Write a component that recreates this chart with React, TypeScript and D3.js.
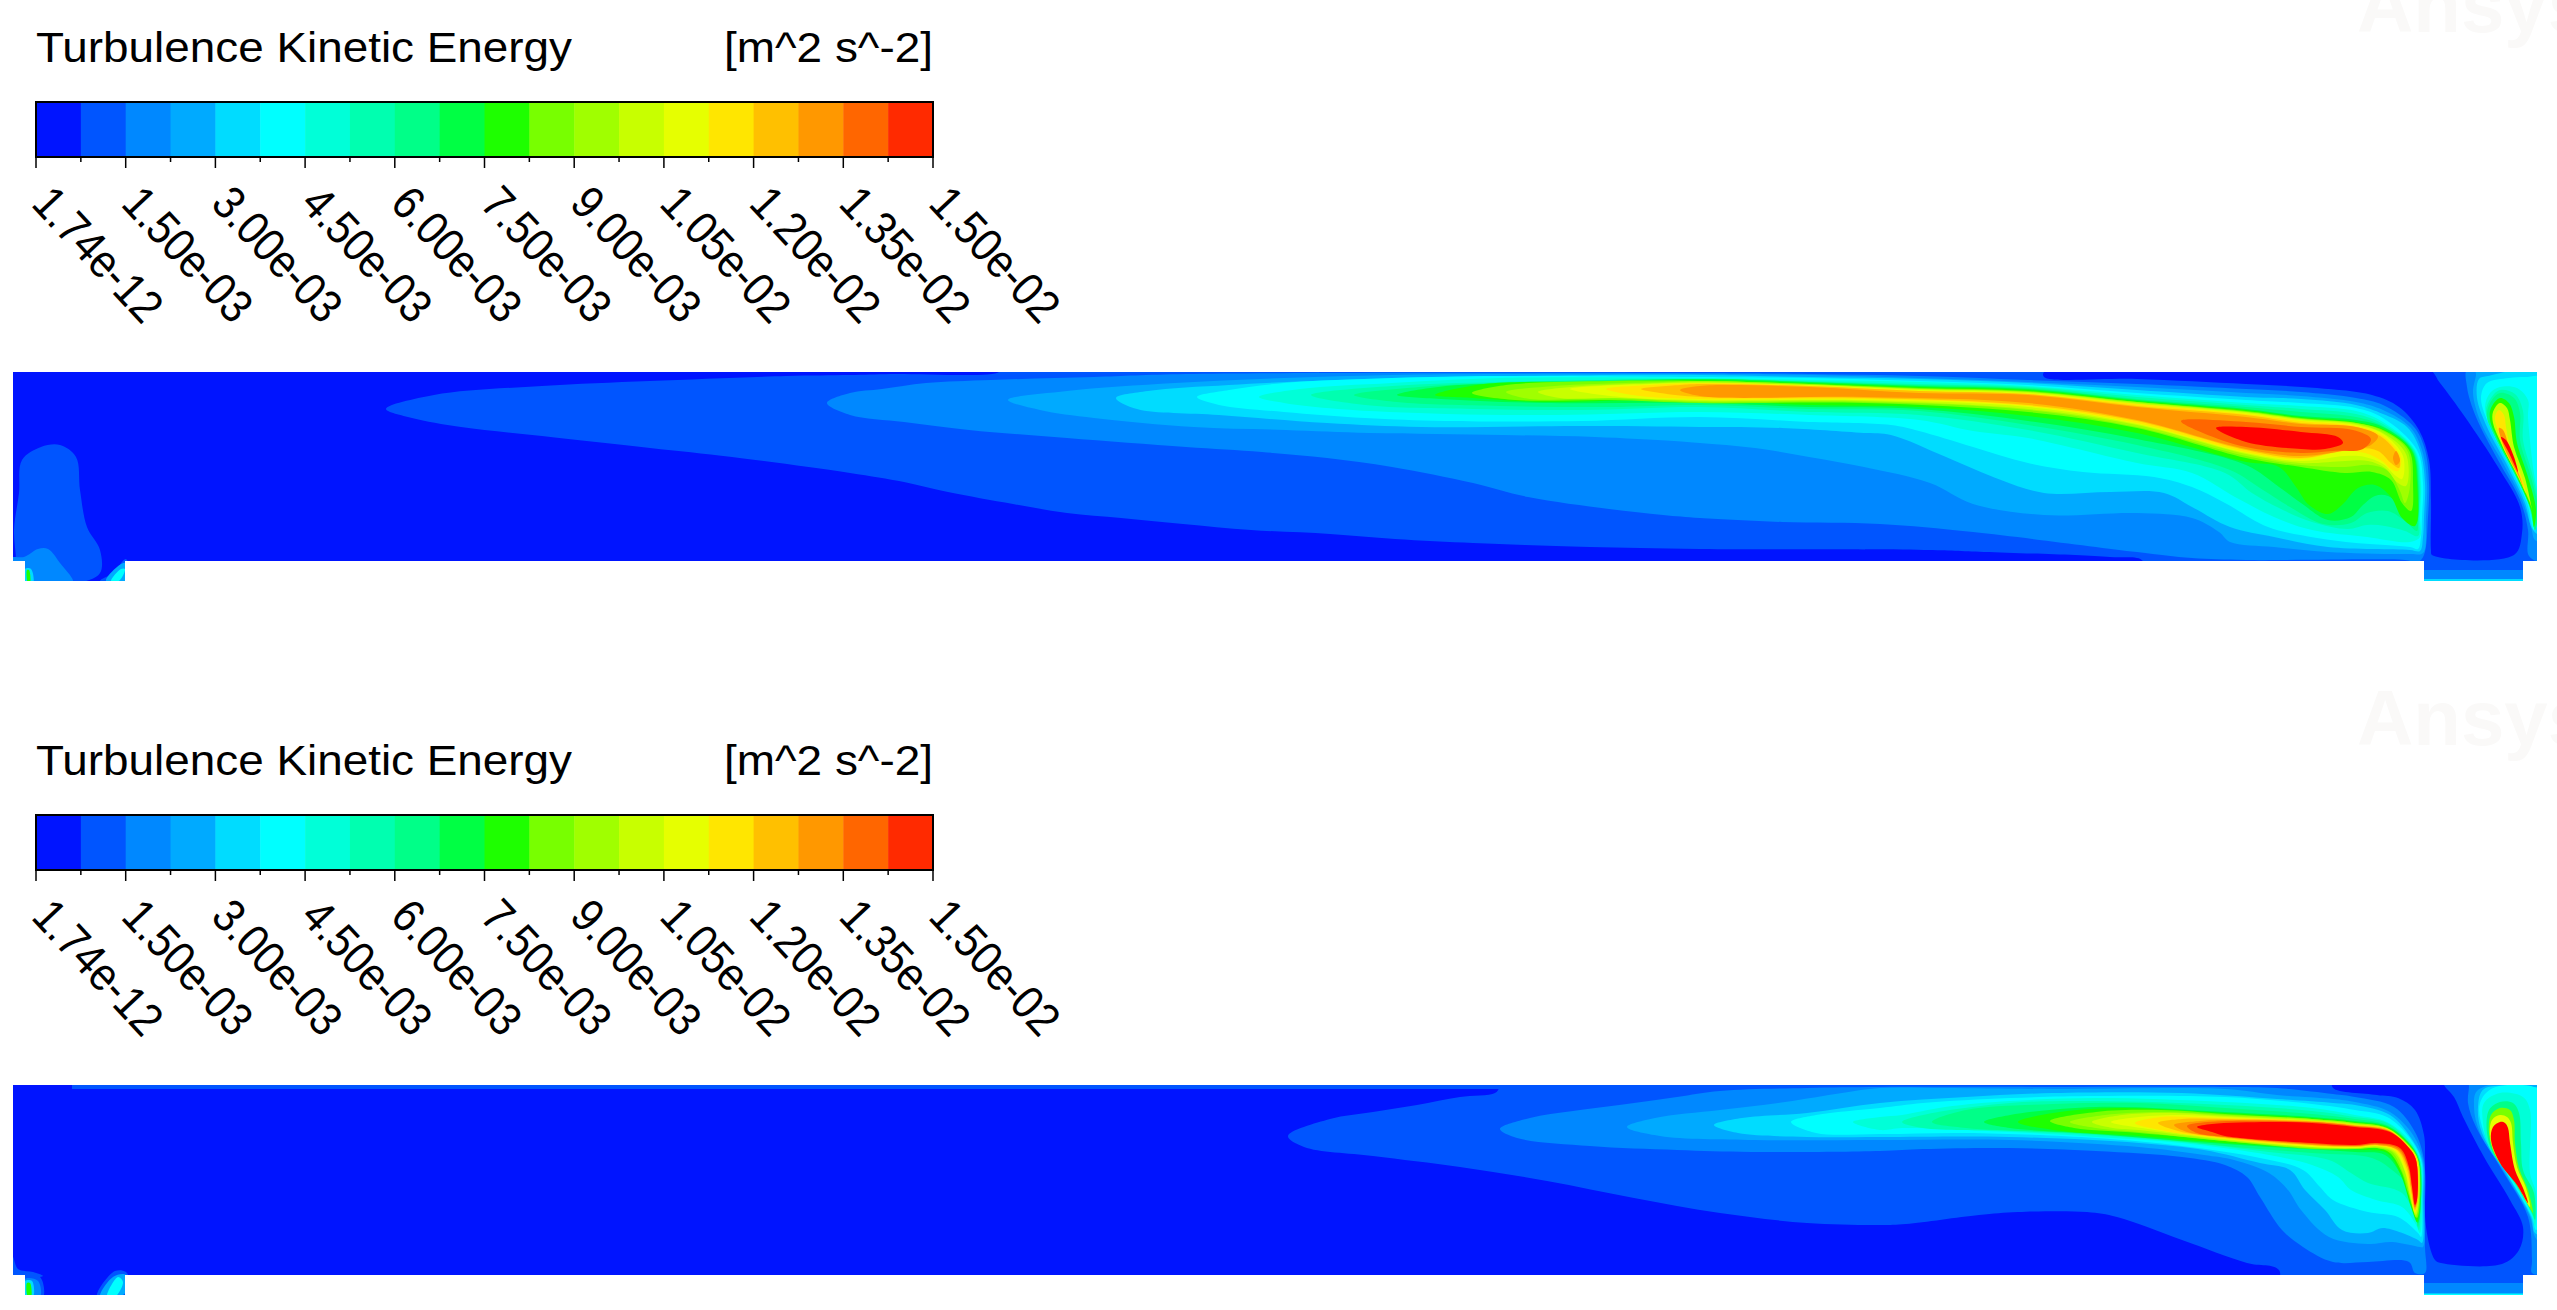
import * as d3 from 'd3';

type Pt = [number, number];
type Layer = [number, Pt[], boolean?];

// legend
const fieldTitle = 'Turbulence Kinetic Energy';
const fieldUnit = '[m^2 s^-2]';
const tickLabels = ['1.74e-12', '1.50e-03', '3.00e-03', '4.50e-03', '6.00e-03', '7.50e-03', '9.00e-03', '1.05e-02', '1.20e-02', '1.35e-02', '1.50e-02'];
const bandColors = ['#0014ff', '#0055ff', '#0088ff', '#00aaff', '#00dcff', '#00ffff', '#00ffd8', '#00ffb0', '#00ff88', '#00ff44', '#1eff00', '#78ff00', '#a0ff00', '#c8ff00', '#e6ff00', '#ffe600', '#ffc000', '#ff9800', '#ff6600', '#ff2a00'];
const hotColor = '#ff0000';

// channel outline, position along / height above floor
const topOutline: Pt[] = [[0, 189], [2524, 189], [2524, 0], [2510, 0], [2510, -20], [2411, -20], [2411, 0], [112, 0], [112, -20], [12, -20], [12, 0], [0, 0]];
const botOutline: Pt[] = [[0, 190], [2524, 190], [2524, 0], [2510, 0], [2510, -20], [2411, -20], [2411, 0], [112, 0], [112, -20], [12, -20], [12, 0], [0, 0]];

// isolines, upper case (top) run
const topC1: Pt[] = [[373, 152], [421, 166], [529, 175], [637, 180], [773, 185], [837, 186], [878, 187], [986, 189], [986, 193], [2530, 193], [2530, -25], [2130, -25], [2130, 0], [2097, 4], [1971, 9], [1911, 11], [1687, 12], [1577, 14], [1512, 16], [1460, 18], [1382, 22], [1317, 27], [1238, 31], [1170, 37], [1108, 43], [1054, 48], [1000, 57], [935, 69], [891, 79], [837, 88], [719, 104], [637, 113], [529, 125], [448, 134], [399, 143]];
const topColumn: Pt[] = [[2031, 184], [2124, 182], [2233, 177], [2304, 173], [2359, 166], [2386, 154], [2406, 131], [2416, 101], [2418, 61], [2418, 11], [2419, 6], [2501, 6], [2509, 28], [2507, 54], [2485, 94], [2452, 144], [2427, 178], [2414, 193], [2124, 193], [2031, 189]];
const topC2: Pt[] = [[814, 158], [837, 168], [869, 172], [913, 178], [978, 181], [1081, 184], [1173, 187], [1687, 188], [1796, 187], [1906, 185], [2015, 181], [2124, 177], [2233, 172], [2288, 169], [2343, 163], [2370, 156], [2401, 134], [2412, 111], [2416, 78], [2415, 44], [2411, 6], [2405, -1], [2392, 1], [2233, 1], [2179, 3], [2124, 9], [1960, 29], [1867, 37], [1769, 39], [1687, 43], [1650, 46], [1596, 52], [1515, 64], [1460, 78], [1379, 94], [1314, 103], [1249, 109], [1173, 114], [1054, 123], [956, 131], [891, 139], [837, 146]];
const topC3: Pt[] = [[995, 161], [1054, 170], [1162, 178], [1271, 183], [1379, 186], [1487, 187], [1687, 187], [1796, 186], [1906, 183], [2015, 179], [2124, 174], [2233, 168], [2288, 165], [2343, 159], [2370, 151], [2397, 134], [2409, 111], [2414, 78], [2413, 44], [2410, 8], [2397, 7], [2315, 9], [2261, 14], [2217, 19], [2206, 29], [2179, 43], [2124, 48], [2031, 46], [1960, 57], [1917, 78], [1851, 94], [1796, 104], [1742, 113], [1687, 118], [1661, 120], [1582, 124], [1490, 126], [1357, 128], [1273, 131], [1181, 134], [1081, 143], [1027, 151]];
const topC4: Pt[] = [[1103, 163], [1135, 170], [1216, 176], [1325, 181], [1433, 184], [1596, 186], [1687, 186], [1796, 184], [1906, 182], [2015, 178], [2124, 171], [2233, 164], [2288, 162], [2343, 156], [2370, 147], [2394, 134], [2407, 111], [2412, 78], [2411, 44], [2410, 24], [2407, 10], [2397, 11], [2315, 14], [2261, 24], [2217, 34], [2179, 54], [2151, 68], [2097, 69], [2031, 68], [1988, 81], [1933, 104], [1878, 126], [1851, 128], [1769, 133], [1687, 134], [1566, 135], [1409, 134], [1314, 138], [1206, 146], [1124, 152]];
const topC5: Pt[] = [[1184, 164], [1216, 171], [1271, 178], [1379, 183], [1487, 185], [1687, 184], [1796, 183], [1906, 180], [2015, 176], [2124, 168], [2233, 161], [2288, 158], [2343, 153], [2370, 143], [2404, 111], [2410, 78], [2409, 44], [2408, 24], [2405, 12], [2397, 14], [2343, 18], [2304, 23], [2255, 34], [2212, 58], [2179, 74], [2141, 84], [2070, 89], [2015, 98], [1960, 114], [1906, 130], [1878, 136], [1796, 139], [1687, 144], [1569, 140], [1433, 140], [1352, 143], [1271, 149], [1206, 156]];
const topC6: Pt[] = [[1246, 164], [1287, 172], [1379, 178], [1487, 183], [1687, 183], [1796, 181], [1906, 179], [2015, 175], [2124, 166], [2233, 158], [2288, 155], [2343, 150], [2370, 139], [2402, 111], [2408, 78], [2407, 44], [2407, 24], [2397, 19], [2354, 24], [2299, 31], [2261, 44], [2222, 64], [2179, 88], [2124, 98], [2015, 123], [1960, 130], [1906, 141], [1796, 146], [1687, 149], [1542, 146], [1433, 147], [1325, 152], [1271, 158]];
const topC7: Pt[] = [[1298, 166], [1379, 175], [1487, 179], [1687, 182], [1796, 180], [1906, 177], [2015, 174], [2124, 164], [2233, 156], [2288, 152], [2343, 147], [2370, 137], [2401, 111], [2407, 78], [2406, 44], [2405, 25], [2392, 30], [2372, 35], [2354, 36], [2335, 32], [2299, 39], [2266, 53], [2239, 68], [2212, 88], [2124, 108], [2015, 131], [1906, 146], [1796, 149], [1687, 154], [1569, 151], [1460, 152], [1352, 156]];
const topC8: Pt[] = [[1341, 166], [1406, 174], [1487, 178], [1687, 182], [1796, 179], [1906, 176], [2015, 173], [2124, 162], [2233, 154], [2288, 149], [2343, 144], [2370, 135], [2400, 111], [2406, 78], [2405, 40], [2404, 30], [2392, 40], [2375, 50], [2354, 48], [2338, 38], [2310, 37], [2277, 54], [2250, 71], [2217, 91], [2124, 116], [2015, 136], [1906, 150], [1796, 152], [1687, 156], [1596, 154], [1487, 155], [1384, 159]];
const topC9: Pt[] = [[1384, 166], [1433, 175], [1542, 178], [1687, 182], [1796, 179], [1906, 175], [2015, 172], [2124, 161], [2233, 152], [2288, 145], [2343, 141], [2370, 134], [2399, 111], [2405, 78], [2403, 37], [2392, 50], [2375, 65], [2362, 65], [2349, 55], [2338, 44], [2315, 41], [2288, 58], [2266, 74], [2233, 96], [2124, 122], [2015, 140], [1906, 152], [1796, 154], [1687, 158], [1531, 158], [1428, 162]];
const topC10: Pt[] = [[1422, 166], [1471, 177], [1596, 179], [1687, 181], [1796, 178], [1906, 174], [2015, 171], [2124, 160], [2233, 151], [2288, 144], [2343, 139], [2370, 132], [2398, 111], [2404, 78], [2402, 35], [2389, 43], [2378, 64], [2362, 76], [2345, 73], [2329, 56], [2315, 47], [2296, 56], [2283, 74], [2266, 94], [2233, 99], [2124, 128], [2015, 145], [1906, 154], [1796, 156], [1687, 161], [1623, 161], [1531, 159], [1460, 163]];
const topC11: Pt[] = [[1459, 168], [1493, 176], [1596, 180], [1687, 180], [1796, 177], [1906, 173], [2015, 170], [2124, 159], [2233, 150], [2288, 143], [2343, 138], [2370, 131], [2396, 111], [2400, 78], [2398, 50], [2389, 58], [2378, 81], [2359, 89], [2332, 88], [2288, 94], [2233, 103], [2124, 133], [2015, 149], [1851, 158], [1687, 158], [1596, 161], [1502, 161]];
const topC12: Pt[] = [[1493, 169], [1542, 175], [1650, 179], [1687, 180], [1796, 177], [1906, 172], [2015, 169], [2124, 159], [2233, 149], [2288, 142], [2343, 138], [2370, 130], [2394, 111], [2397, 75], [2392, 58], [2387, 70], [2375, 90], [2357, 96], [2332, 94], [2288, 96], [2233, 105], [2124, 134], [2015, 151], [1851, 159], [1687, 159], [1587, 163], [1517, 162]];
const topC13: Pt[] = [[1525, 169], [1558, 174], [1650, 178], [1687, 179], [1796, 176], [1906, 172], [2015, 169], [2124, 158], [2233, 149], [2288, 142], [2343, 137], [2370, 128], [2393, 107], [2393, 75], [2385, 78], [2372, 93], [2355, 100], [2332, 100], [2288, 98], [2233, 107], [2124, 136], [2015, 152], [1851, 160], [1687, 160], [1607, 163], [1547, 163]];
const topC14: Pt[] = [[1557, 172], [1637, 177], [1687, 178], [1796, 176], [1906, 171], [2015, 168], [2124, 157], [2233, 148], [2288, 141], [2343, 136], [2370, 127], [2390, 105], [2389, 82], [2383, 85], [2370, 97], [2352, 104], [2332, 105], [2288, 100], [2233, 108], [2124, 137], [2015, 154], [1851, 161], [1687, 161], [1607, 164]];
const topC15: Pt[] = [[1593, 172], [1637, 176], [1687, 178], [1796, 175], [1906, 170], [2015, 167], [2124, 157], [2233, 147], [2288, 140], [2343, 135], [2370, 125], [2388, 103], [2385, 90], [2378, 92], [2369, 100], [2352, 108], [2332, 110], [2288, 102], [2233, 109], [2124, 138], [2015, 155], [1851, 162], [1687, 162], [1627, 165]];
const topC16: Pt[] = [[1628, 172], [1667, 176], [1687, 177], [1796, 175], [1906, 170], [2015, 167], [2124, 155], [2233, 146], [2288, 138], [2343, 134], [2370, 123], [2386, 104], [2386, 93], [2378, 98], [2365, 110], [2345, 113], [2288, 103], [2233, 111], [2124, 140], [2015, 156], [1851, 163], [1687, 164], [1647, 168]];
const topC17: Pt[] = [[1667, 171], [1687, 175], [1796, 174], [1906, 168], [2015, 166], [2124, 154], [2233, 144], [2288, 137], [2343, 134], [2365, 125], [2358, 116], [2340, 112], [2288, 105], [2233, 112], [2124, 141], [2015, 158], [1851, 164], [1687, 165]];
const topC17Spot: Pt[] = [[2383, 110], [2387, 100], [2383, 96], [2380, 103]];
const topC18: Pt[] = [[2168, 140], [2233, 139], [2288, 134], [2340, 131], [2358, 122], [2350, 112], [2320, 110], [2288, 108], [2233, 114], [2190, 128]];
const topC19: Pt[] = [[2203, 133], [2233, 134], [2288, 129], [2325, 124], [2330, 118], [2312, 112], [2288, 112], [2233, 119]];

// right hand chamber, top run
const topRoomC2: Pt[] = [[2455, 193], [2454, 174], [2463, 144], [2485, 101], [2507, 61], [2515, 31], [2516, 5], [2530, 0], [2530, 193]];
const topRoomC3: Pt[] = [[2463, 193], [2463, 186], [2460, 168], [2468, 138], [2490, 98], [2509, 61], [2518, 34], [2522, 21], [2530, 20], [2530, 193]];
const topRoomC4: Pt[] = [[2475, 185], [2466, 182], [2464, 163], [2474, 134], [2495, 94], [2512, 58], [2520, 31], [2530, 25], [2530, 187]];
const topRoomC5: Pt[] = [[2474, 178], [2468, 163], [2477, 134], [2497, 94], [2514, 58], [2521, 31], [2526, 40], [2530, 60], [2530, 183], [2512, 184], [2496, 183]];
const topRoomC6: Pt[] = [[2487, 174], [2477, 168], [2472, 154], [2479, 131], [2499, 94], [2515, 58], [2522, 31], [2525, 61], [2520, 94], [2515, 144], [2515, 161], [2504, 173]];
const topRoomC7: Pt[] = [[2487, 171], [2478, 163], [2473, 150], [2481, 127], [2500, 91], [2516, 56], [2522, 31], [2525, 55], [2519, 88], [2510, 121], [2510, 150], [2502, 167]];
const topRoomC8: Pt[] = [[2487, 168], [2477, 158], [2474, 144], [2482, 124], [2501, 88], [2517, 54], [2522, 31], [2525, 51], [2518, 84], [2507, 121], [2507, 148], [2501, 163]];
const topRoomC10: Pt[] = [[2487, 163], [2478, 153], [2477, 141], [2485, 121], [2503, 86], [2518, 51], [2521, 34], [2523, 51], [2515, 84], [2504, 118], [2501, 144], [2496, 158]];
const topRoomC13: Pt[] = [[2487, 158], [2480, 149], [2480, 138], [2488, 118], [2505, 84], [2517, 58], [2519, 51], [2512, 83], [2501, 114], [2497, 141], [2494, 153]];
const topRoomC15: Pt[] = [[2486, 151], [2482, 144], [2484, 133], [2490, 114], [2506, 83], [2513, 68], [2509, 83], [2498, 111], [2493, 134], [2491, 146]];
const topRoomC17: Pt[] = [[2486, 133], [2491, 114], [2506, 84], [2510, 74], [2507, 84], [2497, 111], [2490, 131]];
const topRoomC19: Pt[] = [[2488, 124], [2496, 108], [2505, 89], [2501, 104], [2493, 121]];
const topRightNozzleC2: Pt[] = [[2400, -9], [2520, -9], [2520, -30], [2400, -30]];
const topRightNozzleC4: Pt[] = [[2400, -18], [2520, -18], [2520, -30], [2400, -30]];

// left inlet, top run
const topDomeC1: Pt[] = [[3, -2], [1, 31], [6, 68], [9, 101], [28, 114], [47, 116], [63, 104], [67, 71], [74, 34], [87, 11], [87, -12], [65, -22], [0, -22]];
const topDomeC2: Pt[] = [[-2, 3], [11, 4], [25, 12], [35, 12], [47, -2], [60, -22], [11, -22]];
const topInletC4: Pt[] = [[12, -8], [18, -8], [20, -22], [12, -22]];
const topInletC10: Pt[] = [[14, -9], [16, -9], [17, -22], [15, -22]];
const topStreakC1: Pt[] = [[87, -20], [100, -12], [113, 2], [116, -22]];
const topStreakC3: Pt[] = [[93, -20], [104, -6], [112, -2], [113, -22]];
const topStreakC5: Pt[] = [[98, -20], [108, -8], [112, -8], [106, -20]];

// isolines, bottom run
const botC1: Pt[] = [[1275, 139], [1317, 156], [1360, 163], [1404, 170], [1447, 178], [1482, 182], [1486, 187], [1486, 194], [2530, 194], [2530, -25], [2266, -25], [2266, 5], [2234, 12], [2169, 35], [2104, 58], [2074, 63], [2005, 63], [1966, 60], [1893, 51], [1867, 50], [1794, 52], [1707, 62], [1621, 77], [1534, 94], [1447, 108], [1360, 119], [1291, 128]];
const botColumn: Pt[] = [[2320, 187], [2364, 180], [2385, 177], [2402, 165], [2411, 140], [2412, 115], [2413, 48], [2422, 15], [2428, 12], [2489, 11], [2506, 25], [2510, 48], [2497, 75], [2471, 118], [2450, 158], [2441, 178], [2433, 187], [2427, 194], [2320, 194]];
const botC2: Pt[] = [[1487, 146], [1517, 157], [1560, 164], [1621, 172], [1664, 178], [1707, 184], [1794, 187], [1867, 188], [2040, 188], [2212, 188], [2264, 187], [2320, 181], [2342, 178], [2381, 168], [2402, 143], [2411, 115], [2412, 65], [2412, 28], [2412, 2], [2402, 2], [2396, 13], [2355, 13], [2320, 13], [2290, 28], [2269, 45], [2247, 78], [2234, 98], [2212, 110], [2169, 118], [2083, 124], [1997, 127], [1910, 126], [1867, 124], [1738, 123], [1664, 125], [1577, 129], [1504, 137]];
const botC3: Pt[] = [[1614, 148], [1642, 157], [1707, 165], [1772, 173], [1829, 182], [1867, 187], [1932, 187], [2040, 186], [2212, 186], [2264, 180], [2320, 176], [2342, 173], [2377, 163], [2400, 140], [2410, 115], [2411, 75], [2410, 28], [2407, 28], [2379, 33], [2355, 31], [2316, 38], [2288, 65], [2275, 85], [2256, 102], [2221, 115], [2191, 120], [2126, 128], [1997, 135], [1867, 135], [1742, 135], [1647, 139]];
const botC4: Pt[] = [[1701, 150], [1729, 157], [1794, 162], [1867, 172], [1953, 178], [2040, 182], [2169, 182], [2264, 176], [2320, 172], [2342, 170], [2377, 160], [2398, 137], [2409, 115], [2410, 75], [2409, 32], [2405, 35], [2370, 47], [2355, 42], [2329, 45], [2312, 65], [2292, 85], [2277, 105], [2247, 112], [2191, 125], [2126, 132], [1997, 138], [1867, 138], [1794, 138], [1725, 142]];
const botC5: Pt[] = [[1778, 153], [1803, 160], [1867, 167], [1910, 172], [1997, 177], [2083, 179], [2212, 178], [2299, 171], [2342, 165], [2374, 158], [2396, 138], [2408, 115], [2409, 75], [2408, 38], [2405, 42], [2385, 58], [2355, 63], [2320, 75], [2307, 88], [2290, 105], [2247, 117], [2169, 129], [2083, 137], [1953, 142], [1867, 141], [1803, 142]];
const botC6: Pt[] = [[1840, 153], [1867, 158], [1889, 160], [1932, 168], [1997, 174], [2083, 177], [2212, 173], [2299, 167], [2342, 160], [2374, 153], [2396, 135], [2407, 115], [2409, 75], [2407, 42], [2402, 52], [2389, 68], [2363, 75], [2338, 85], [2325, 98], [2299, 110], [2256, 120], [2169, 132], [2083, 138], [1997, 143], [1889, 147], [1867, 145]];
const botC7: Pt[] = [[1889, 153], [1910, 160], [1997, 172], [2083, 174], [2212, 170], [2299, 164], [2342, 158], [2374, 152], [2396, 133], [2407, 115], [2408, 75], [2406, 45], [2402, 58], [2389, 82], [2355, 92], [2338, 102], [2316, 115], [2256, 123], [2169, 133], [2083, 140], [1997, 144], [1910, 147]];
const botC8: Pt[] = [[1919, 153], [1953, 165], [2040, 171], [2126, 172], [2212, 167], [2299, 161], [2342, 156], [2374, 150], [2396, 132], [2406, 115], [2408, 75], [2405, 48], [2402, 65], [2396, 88], [2379, 105], [2359, 117], [2299, 122], [2212, 129], [2126, 138], [2040, 143], [1953, 147]];
const botC9: Pt[] = [[1971, 153], [1997, 160], [2083, 168], [2212, 163], [2299, 158], [2342, 154], [2374, 149], [2396, 132], [2406, 115], [2408, 75], [2405, 52], [2400, 65], [2389, 98], [2372, 120], [2342, 123], [2256, 128], [2169, 134], [2083, 141], [1997, 147]];
const botC10: Pt[] = [[2005, 153], [2040, 162], [2104, 167], [2212, 162], [2299, 157], [2342, 153], [2374, 148], [2396, 131], [2405, 115], [2407, 75], [2404, 53], [2399, 65], [2387, 102], [2374, 122], [2351, 125], [2299, 127], [2212, 132], [2126, 139], [2040, 145]];
const botC11: Pt[] = [[2037, 154], [2083, 163], [2148, 165], [2212, 161], [2299, 156], [2342, 152], [2374, 147], [2396, 130], [2405, 115], [2407, 75], [2404, 57], [2395, 82], [2389, 102], [2377, 122], [2364, 127], [2342, 126], [2299, 126], [2212, 134], [2126, 142], [2061, 147]];
const botC12: Pt[] = [[2057, 153], [2092, 160], [2148, 163], [2212, 160], [2299, 156], [2342, 152], [2374, 147], [2396, 129], [2405, 115], [2406, 75], [2403, 58], [2396, 83], [2390, 102], [2379, 123], [2364, 127], [2342, 126], [2299, 127], [2212, 134], [2126, 143], [2083, 147]];
const botC13: Pt[] = [[2079, 153], [2109, 160], [2161, 162], [2212, 159], [2299, 155], [2342, 151], [2374, 146], [2396, 129], [2405, 115], [2406, 75], [2403, 60], [2396, 83], [2392, 103], [2381, 123], [2364, 128], [2342, 127], [2299, 128], [2212, 135], [2126, 145], [2100, 147]];
const botC14: Pt[] = [[2098, 153], [2126, 158], [2169, 160], [2212, 158], [2299, 154], [2342, 150], [2375, 146], [2396, 128], [2404, 115], [2405, 75], [2402, 62], [2397, 84], [2392, 104], [2382, 124], [2364, 129], [2342, 127], [2299, 128], [2212, 136], [2135, 146]];
const botC15: Pt[] = [[2122, 152], [2148, 158], [2178, 158], [2212, 157], [2299, 154], [2342, 150], [2376, 145], [2396, 128], [2404, 115], [2405, 75], [2402, 63], [2397, 85], [2393, 105], [2383, 124], [2364, 129], [2342, 128], [2299, 129], [2212, 136], [2152, 144]];
const botC16: Pt[] = [[2145, 152], [2169, 156], [2212, 156], [2299, 154], [2342, 150], [2376, 145], [2396, 127], [2403, 115], [2405, 75], [2402, 65], [2398, 86], [2394, 106], [2384, 125], [2364, 130], [2342, 128], [2299, 130], [2212, 137], [2165, 144]];
const botC17: Pt[] = [[2161, 150], [2187, 154], [2212, 155], [2299, 153], [2342, 149], [2376, 144], [2396, 127], [2403, 115], [2404, 75], [2402, 67], [2398, 87], [2395, 107], [2385, 125], [2364, 130], [2342, 129], [2299, 130], [2212, 138], [2174, 143]];
const botC18: Pt[] = [[2174, 149], [2195, 153], [2299, 153], [2342, 149], [2376, 144], [2396, 127], [2403, 115], [2404, 75], [2402, 68], [2399, 88], [2395, 108], [2386, 126], [2364, 131], [2342, 129], [2299, 131], [2212, 138], [2184, 142]];
const botC19: Pt[] = [[2184, 148], [2199, 151], [2256, 153], [2299, 152], [2342, 148], [2377, 143], [2396, 127], [2403, 115], [2404, 75], [2402, 70], [2399, 88], [2396, 108], [2387, 127], [2364, 132], [2342, 130], [2299, 132], [2212, 139], [2199, 143]];

// right hand chamber, bottom run
const botRoomC2: Pt[] = [[2456, 194], [2456, 188], [2455, 172], [2463, 148], [2489, 105], [2515, 58], [2519, 15], [2519, 2], [2530, 2], [2530, 194]];
const botRoomC3: Pt[] = [[2465, 185], [2461, 168], [2467, 142], [2491, 103], [2517, 58], [2522, 38], [2530, 30], [2530, 188]];
const botRoomC4: Pt[] = [[2471, 186], [2465, 168], [2469, 142], [2493, 102], [2518, 58], [2522, 42], [2530, 40], [2530, 188], [2523, 188]];
const botRoomC5: Pt[] = [[2480, 187], [2467, 172], [2471, 142], [2495, 100], [2519, 58], [2523, 45], [2530, 60], [2530, 180], [2521, 188]];
const botRoomC6: Pt[] = [[2487, 182], [2471, 172], [2470, 152], [2476, 128], [2497, 98], [2519, 60], [2522, 48], [2523, 82], [2517, 102], [2517, 165], [2510, 178]];
const botRoomC8: Pt[] = [[2487, 173], [2476, 165], [2474, 142], [2480, 122], [2500, 95], [2519, 62], [2522, 55], [2521, 82], [2510, 105], [2508, 132], [2506, 162], [2500, 172]];
const botRoomC11: Pt[] = [[2487, 167], [2478, 160], [2476, 142], [2482, 120], [2502, 93], [2518, 65], [2520, 62], [2515, 85], [2506, 107], [2502, 132], [2501, 155], [2497, 165]];
const botRoomC14: Pt[] = [[2487, 160], [2479, 155], [2477, 138], [2484, 117], [2503, 92], [2517, 68], [2513, 87], [2504, 108], [2500, 132], [2498, 152], [2494, 158]];
const botRoomC19: Pt[] = [[2487, 153], [2480, 148], [2478, 135], [2487, 112], [2504, 90], [2515, 72], [2510, 87], [2502, 105], [2497, 132], [2495, 147], [2492, 152]];
const botRightNozzleC2: Pt[] = [[2400, -8], [2520, -8], [2520, -30], [2400, -30]];
const botRightNozzleC5: Pt[] = [[2400, -18.5], [2520, -18.5], [2520, -30], [2400, -30]];

// left inlet and wall strips, bottom run
const botTopStrip: Pt[] = [[59, 186], [1490, 186], [1490, 194], [59, 194]];
const botWedge: Pt[] = [[0, 18], [5, 6], [20, 3], [30, -1], [0, -1]];
const botInletC1: Pt[] = [[12, -2], [27, -2], [30, -22], [12, -22]];
const botInletC2: Pt[] = [[12, -4], [25, -6], [27, -22], [12, -22]];
const botInletC4: Pt[] = [[12, -6], [19, -6], [20, -22], [12, -22]];
const botInletC10: Pt[] = [[14, -8], [17, -8], [18, -22], [15, -22]];
const botStreakC1: Pt[] = [[84, -22], [102, 4], [114, 2], [114, -22]];
const botStreakC3: Pt[] = [[87, -22], [100, -2], [113, 0], [113, -17], [104, -22]];
const botStreakC5: Pt[] = [[94, -22], [105, -2], [110, -7], [102, -22]];

// level, isoline, true when the edge is straight rather than a smooth contour
const topLayers: Layer[] = [
  [1, topC1], [0, topColumn], [1, topDomeC1], [2, topDomeC2], [4, topInletC4], [10, topInletC10],
  [1, topStreakC1], [3, topStreakC3], [5, topStreakC5], [2, topRightNozzleC2, true], [4, topRightNozzleC4, true],
  [2, topC2], [3, topC3], [4, topC4], [5, topC5], [6, topC6], [7, topC7], [8, topC8], [9, topC9], [10, topC10],
  [11, topC11], [12, topC12], [13, topC13], [14, topC14], [15, topC15], [16, topC16], [17, topC17], [17, topC17Spot], [18, topC18], [19, topC19],
  [2, topRoomC2], [3, topRoomC3], [4, topRoomC4], [5, topRoomC5], [6, topRoomC6], [7, topRoomC7], [8, topRoomC8],
  [10, topRoomC10], [13, topRoomC13], [15, topRoomC15], [17, topRoomC17], [19, topRoomC19],
];
const botLayers: Layer[] = [
  [1, botTopStrip, true], [1, botC1], [0, botColumn], [1, botWedge], [1, botInletC1], [2, botInletC2], [4, botInletC4], [10, botInletC10],
  [1, botStreakC1], [3, botStreakC3], [5, botStreakC5], [2, botRightNozzleC2, true], [5, botRightNozzleC5, true],
  [2, botC2], [3, botC3], [4, botC4], [5, botC5], [6, botC6], [7, botC7], [8, botC8], [9, botC9], [10, botC10],
  [11, botC11], [12, botC12], [13, botC13], [14, botC14], [15, botC15], [16, botC16], [17, botC17], [18, botC18], [19, botC19],
  [2, botRoomC2], [3, botRoomC3], [4, botRoomC4], [5, botRoomC5], [6, botRoomC6], [8, botRoomC8], [11, botRoomC11], [14, botRoomC14], [19, botRoomC19],
];

const xScale = d3.scaleLinear().domain([0, 2524]).range([13, 2537]);
const yScale = d3.scaleLinear().domain([-20, 190]).range([581, 371]);
const bandScale = d3.scaleLinear().domain([0, bandColors.length]).range([36, 933]);

const isoline = d3.line<Pt>().x((d) => xScale(d[0])).y((d) => yScale(d[1])).curve(d3.curveCatmullRomClosed.alpha(0.5));
const straight = d3.line<Pt>().x((d) => xScale(d[0])).y((d) => yScale(d[1]));

const FONT = '"Liberation Sans", Arial, sans-serif';

function Legend({ dy }: { dy: number }) {
  const barTop = 102;
  const barBottom = 157;
  return (
    <g transform={`translate(0,${dy})`} fontFamily={FONT} fill="#000">
      <text x={36} y={62} fontSize={43} textLength={536} lengthAdjust="spacingAndGlyphs">{fieldTitle}</text>
      <text x={724} y={62} fontSize={43} textLength={209} lengthAdjust="spacingAndGlyphs">{fieldUnit}</text>
      {bandColors.map((c, i) => (
        <rect key={i} x={bandScale(i)} y={barTop} width={bandScale(i + 1) - bandScale(i) + 0.5} height={barBottom - barTop} fill={c} />
      ))}
      <rect x={bandScale(0)} y={barTop} width={bandScale(20) - bandScale(0)} height={barBottom - barTop} fill="none" stroke="#000" strokeWidth={2} />
      {d3.range(bandColors.length + 1).map((i) => (
        <line key={i} x1={bandScale(i)} x2={bandScale(i)} y1={barBottom} y2={i % 2 === 0 ? 168 : 162} stroke="#000" strokeWidth={1.5} />
      ))}
      {tickLabels.map((t, i) => (
        <text key={t} fontSize={47} textLength={165} lengthAdjust="spacingAndGlyphs" transform={`translate(${bandScale(i * 2) - 6},205) rotate(47)`}>{t}</text>
      ))}
    </g>
  );
}

function Field({ id, outline, layers, dy }: { id: string; outline: Pt[]; layers: Layer[]; dy: number }) {
  const shape = straight(outline) + 'Z';
  return (
    <g transform={`translate(0,${dy})`}>
      <clipPath id={id}><path d={shape} /></clipPath>
      <g clipPath={`url(#${id})`}>
        <path d={shape} fill={bandColors[0]} />
        {layers.map(([level, pts, flat], i) => (
          <path key={i} d={flat ? straight(pts) + 'Z' : isoline(pts) || ''} fill={level === 19 ? hotColor : bandColors[level]} />
        ))}
      </g>
    </g>
  );
}

export default function App() {
  return (
    <svg width={2557} height={1310} style={{ position: 'absolute', left: 0, top: 0, display: 'block', background: '#fff' }}>
      <text x={2357} y={32} fontSize={78} fontWeight="bold" fontFamily={FONT} fill="#faf9f8">Ansys</text>
      <text x={2357} y={745} fontSize={78} fontWeight="bold" fontFamily={FONT} fill="#faf9f8">Ansys</text>
      <Legend dy={0} />
      <Legend dy={713} />
      <Field id="topRun" outline={topOutline} layers={topLayers} dy={0} />
      <Field id="botRun" outline={botOutline} layers={botLayers} dy={714} />
    </svg>
  );
}
